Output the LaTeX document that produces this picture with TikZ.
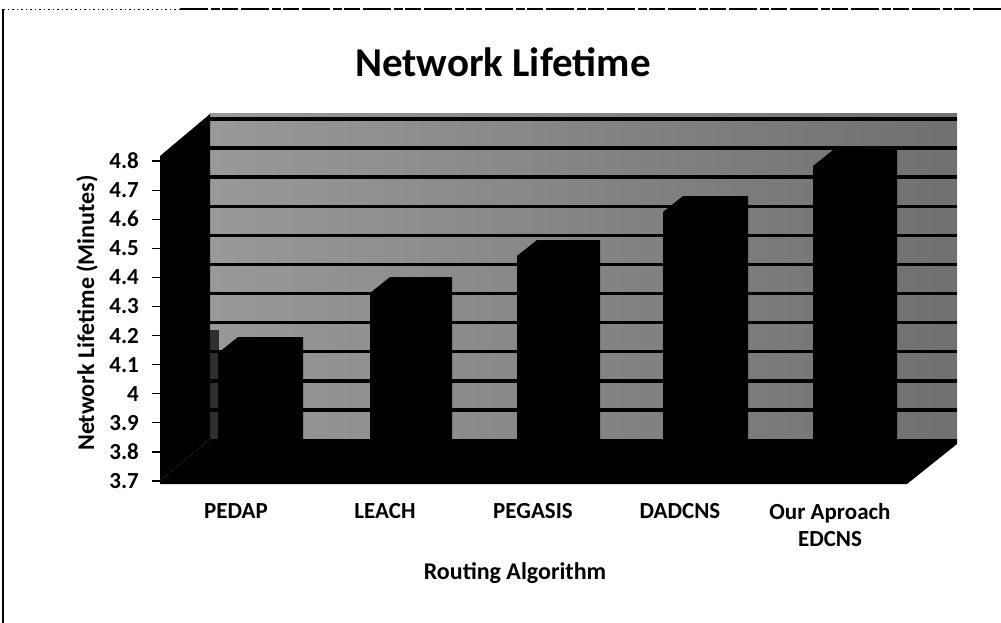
\documentclass[tikz,border=0pt]{standalone}
\usepackage{fontspec}
\setmainfont{Carlito}
\begin{document}
\begin{tikzpicture}[x=1pt,y=-1pt,
  lbl/.style={font=\bfseries\fontsize{23}{27}\selectfont, inner sep=0pt},
  axtitle/.style={font=\bfseries\fontsize{24}{28}\selectfont, inner sep=0pt},
  ticklbl/.style={lbl, anchor=east},
  gridline/.style={line width=3.5pt, black},
  solid3d/.style={fill=black, draw=none},
  barshape/.style={fill=black, draw=none}]
\useasboundingbox (0,0) rectangle (1001,623);

% outer frame (left edge and top edge)
\draw[line width=1.2pt] (3,9) -- (3,623);
\draw[line width=0.8pt, dash pattern=on 1.5pt off 3pt] (3,9) -- (180,9);
\draw[line width=1.4pt, dash pattern=on 28pt off 3pt on 9pt off 2pt on 16pt off 3pt] (180,9) -- (1001,9);

% title
\node[font=\bfseries\fontsize{41}{47}\selectfont, inner sep=0pt] (title) at (503,62) {Network Lifetime};

% back wall with its gridlines
\shade[left color=black!40, right color=black!56] (210,114) rectangle (957,439);
\fill[black!82] (210,330) rectangle (219,439);
\foreach \k in {1,...,11} {
  \draw[gridline] (210,{439-29.09*\k}) -- (957,{439-29.09*\k});
}

% side wall and floor
\fill[solid3d] (160,156) -- (210,114) -- (210,439) -- (160,481) -- cycle;
\fill[solid3d] (160,481) -- (210,439) -- (957,439) -- (957,444) -- (907,484) -- (160,484) -- cycle;

% value axis ticks and labels
\foreach \v [count=\k from 0] in {3.7,3.8,3.9,4,4.1,4.2,4.3,4.4,4.5,4.6,4.7,4.8} {
  \draw[line width=1.2pt] (152,{481-29.09*\k}) -- (160,{481-29.09*\k});
  \node[ticklbl] (t\k) at (139,{481-29.09*\k}) {\v};
}

% columns (front face, top face and side face all black)
\foreach \L/\R/\T [count=\i] in {218/303/337, 370/452/277, 517/600/240, 663/748/196, 813/897/150} {
  \fill[barshape] (\L,470) -- (\L,{\T+16}) -- ({\L+20},\T) -- (\R,\T) -- (\R,470) -- cycle;
}

% category labels
\node[lbl] (c1) at (236,511) {PEDAP};
\node[lbl] (c2) at (385,511) {LEACH};
\node[lbl] (c3) at (533,511) {PEGASIS};
\node[lbl] (c4) at (680,511) {DADCNS};
\node[lbl, align=center] (c5) at (830,525) {Our Aproach\\EDCNS};

% axis titles
\node[axtitle, rotate=90] (ytitle) at (87,313) {Network Lifetime (Minutes)};
\node[axtitle] (xtitle) at (515,573) {Routing Algorithm};
\end{tikzpicture}
\end{document}
